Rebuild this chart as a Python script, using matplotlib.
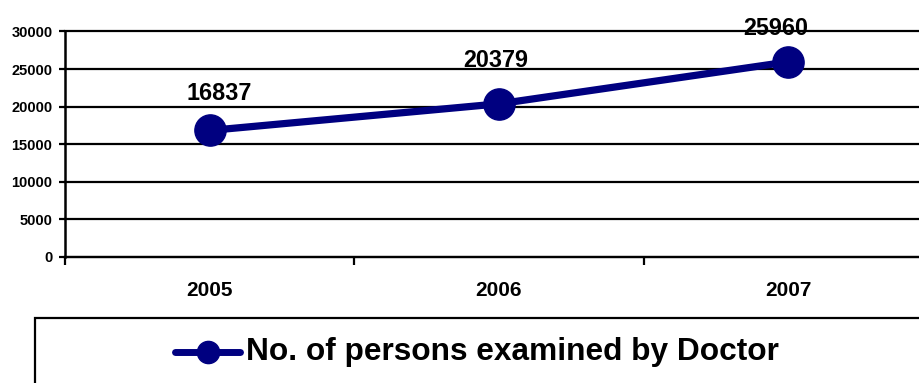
import matplotlib
matplotlib.use("Agg")
import os
import matplotlib.pyplot as plt
from matplotlib import font_manager as fm
from matplotlib.lines import Line2D
from matplotlib.patches import Rectangle

years = ["2005", "2006", "2007"]
persons = [16837, 20379, 25960]
series_name = "No. of persons examined by Doctor"
yticks = [0, 5000, 10000, 15000, 20000, 25000, 30000]

# label offsets (pixels) relative to each point
label_offsets_px = [(10, 36.5), (-3, 43.5), (-13, 33.5)]

plt.rcParams['font.family'] = ['Liberation Sans', 'DejaVu Sans']

bold_path = None
for f in fm.findSystemFonts():
    if os.path.basename(f) == "LiberationSans-Bold.ttf":
        bold_path = f
        break


def bf(size):
    if bold_path:
        return fm.FontProperties(fname=bold_path, size=size)
    return fm.FontProperties(family="Liberation Sans", weight="bold", size=size)


W, H = 919, 383
fig = plt.figure(figsize=(W / 100, H / 100), dpi=100)
fig.patch.set_facecolor("white")

left, right, top, bottom = 65, 933, 31.5, 257
ax = fig.add_axes([left / W, (H - bottom) / H, (right - left) / W, (bottom - top) / H])
ax.set_facecolor("none")

navy = "#000080"
x = list(range(len(years)))
line, = ax.plot(x, persons, color=navy, lw=5.2, marker="o", ms=22.5,
                markerfacecolor=navy, markeredgecolor=navy, zorder=5,
                solid_capstyle="round", clip_on=False)

for xi, v, (dx, dy) in zip(x, persons, label_offsets_px):
    ax.annotate(f"{v}", (xi, v), xytext=(dx * 0.72, dy * 0.72), textcoords="offset points",
                ha="center", va="center", fontproperties=bf(16.8), color="black",
                zorder=6)

ax.set_xlim(-0.5, len(years) - 0.5)
ax.set_ylim(0, 30000)
ax.set_yticks(yticks)
ax.set_yticklabels([str(t) for t in yticks], fontproperties=bf(10.5))
ax.yaxis.grid(True, color="black", lw=1.6, zorder=1)
for gl in ax.get_ygridlines():
    gl.set_clip_on(False)
ax.set_axisbelow(True)

ax.set_xticks(x)
ax.set_xticklabels(years, fontproperties=bf(15))
ax.tick_params(axis="x", which="major", length=0, pad=17)
ax.set_xticks([i - 0.5 for i in range(len(years) + 1)], minor=True)
ax.tick_params(axis="x", which="minor", length=5.5, width=1.6, direction="out", color="black")
ax.tick_params(axis="y", length=4, width=1.6, pad=5, direction="out", color="black")

for s in ["top", "right"]:
    ax.spines[s].set_visible(False)
ax.spines["left"].set_linewidth(1.8)
ax.spines["bottom"].set_linewidth(1.6)
ax.spines["left"].set_color("black")
ax.spines["bottom"].set_color("black")

# legend box (extends past the right and bottom edges)
bx, by = 35, 318
fig.patches.append(Rectangle((bx / W, -0.1), (W + 50 - bx) / W, (H - by) / H + 0.1,
                             transform=fig.transFigure, fill=False, edgecolor="black",
                             lw=1.6, zorder=1))
ly = (H - 352) / H
fig.lines.append(Line2D([175 / W, 240 / W], [ly, ly], transform=fig.transFigure,
                        color=navy, lw=5, solid_capstyle="round"))
fig.lines.append(Line2D([207.5 / W], [ly], transform=fig.transFigure, color=navy,
                        marker="o", ms=16, markerfacecolor=navy, markeredgecolor=navy))
fig.text(246 / W, ly, series_name, ha="left", va="center", fontproperties=bf(22.8),
         color="black")

fig.savefig("out.png", dpi=100, facecolor="white")
